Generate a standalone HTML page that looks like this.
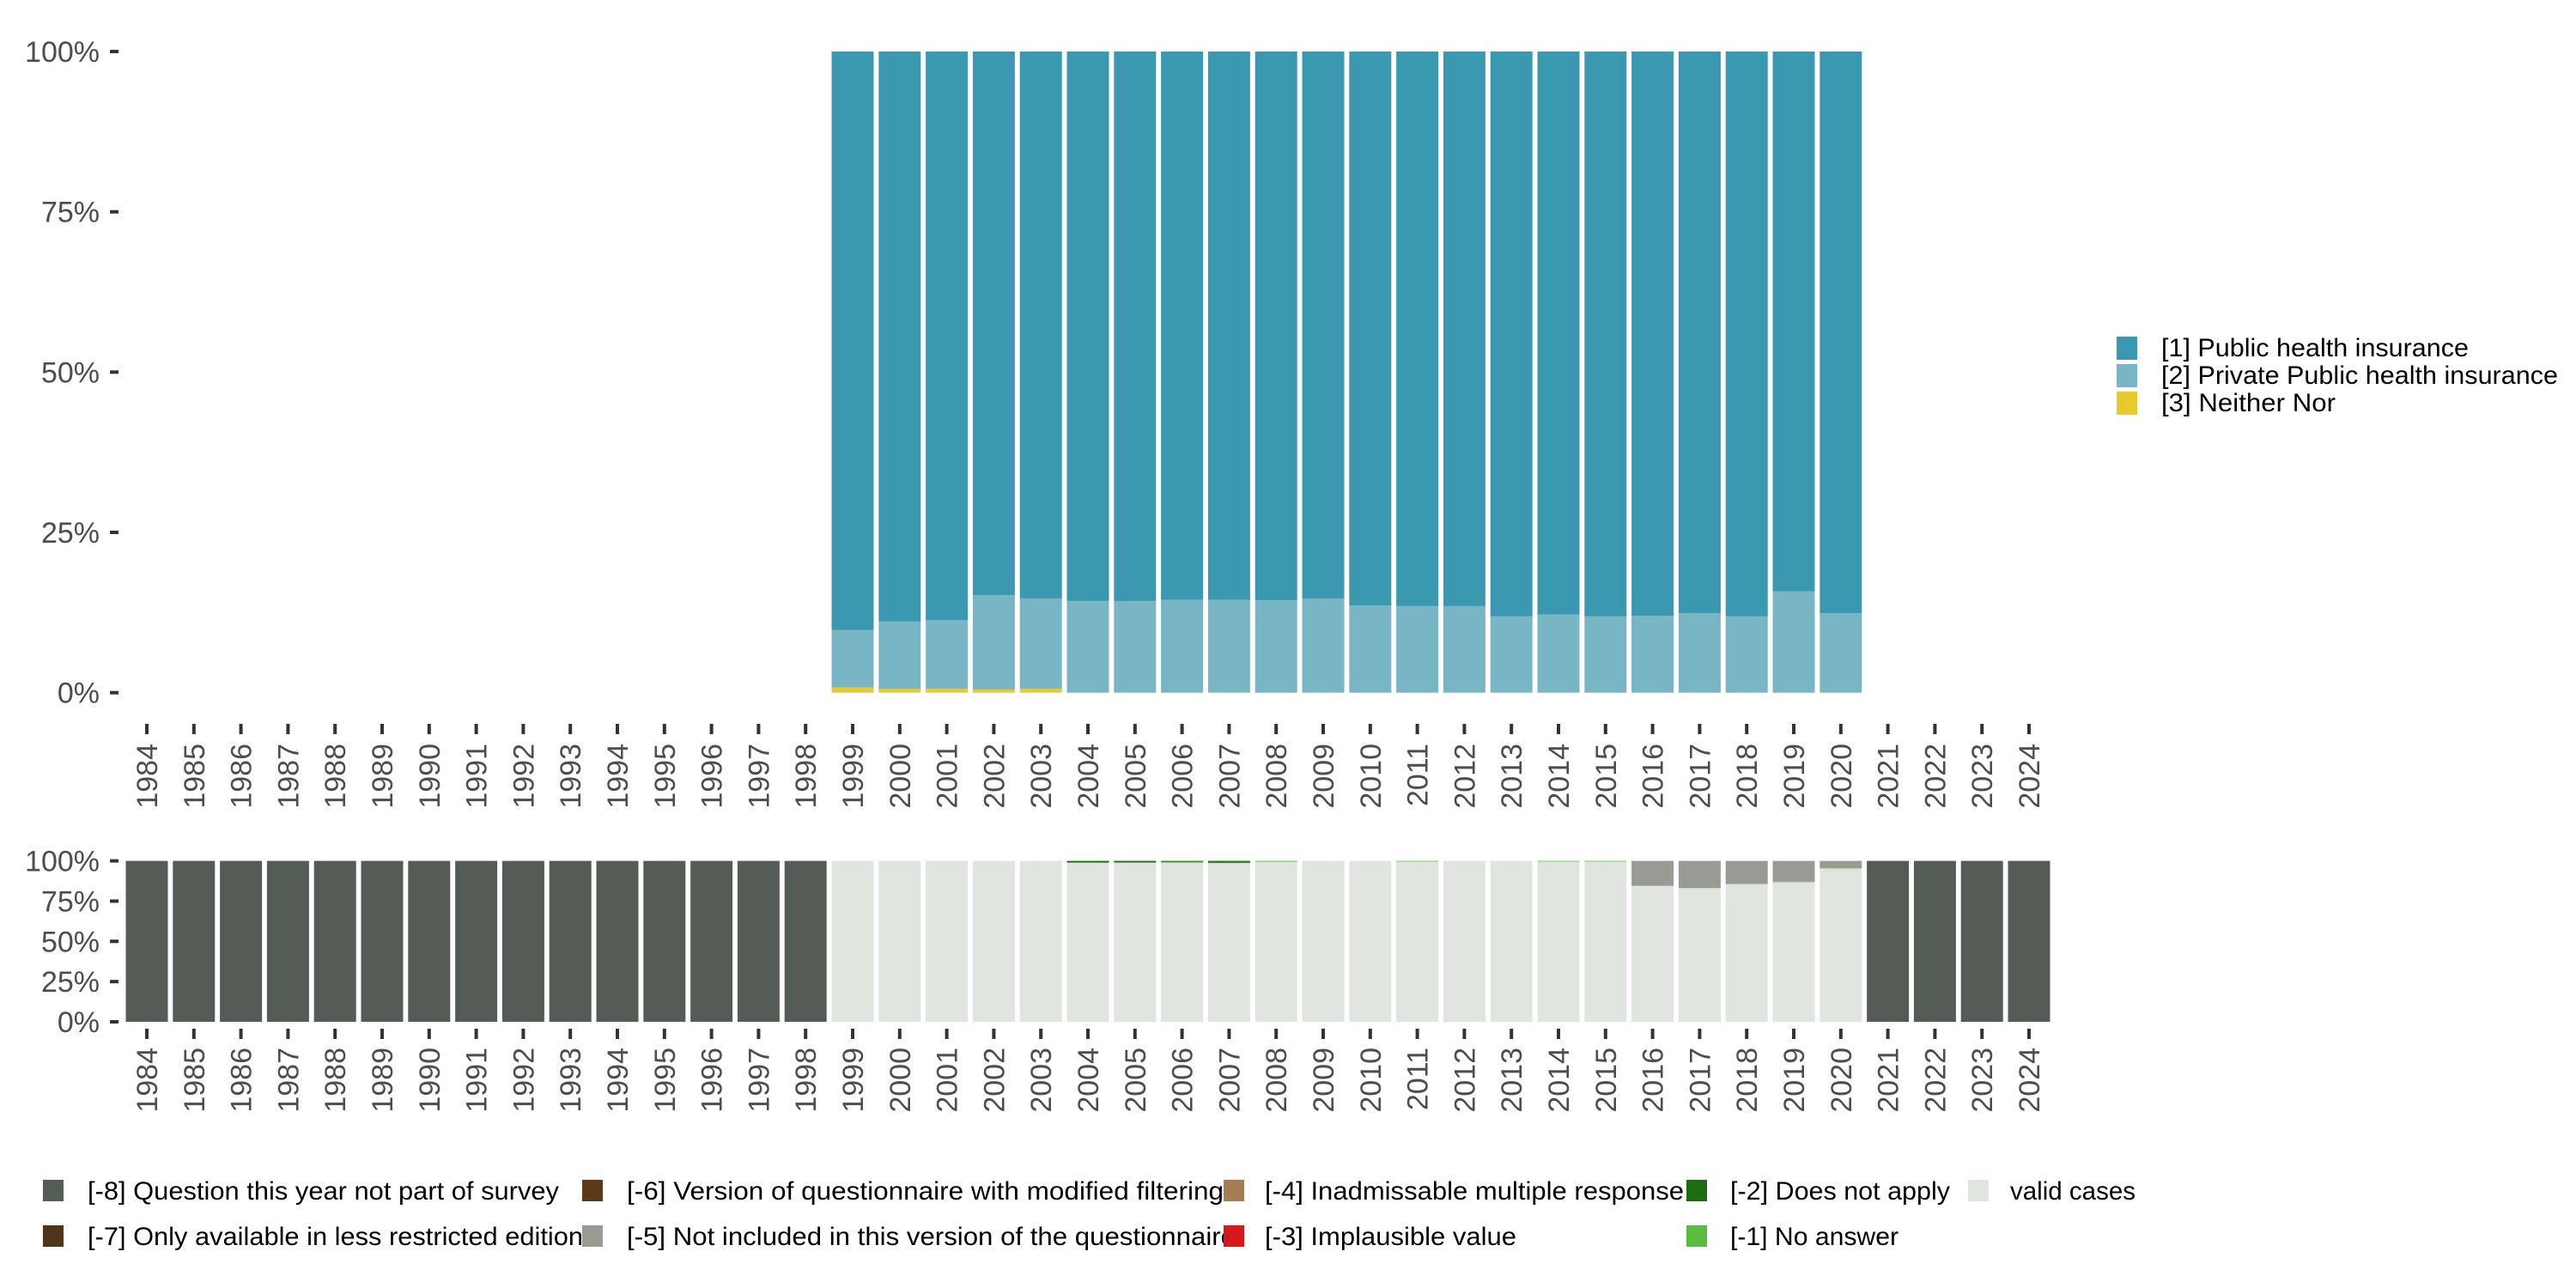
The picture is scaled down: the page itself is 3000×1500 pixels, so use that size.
<!DOCTYPE html>
<html><head><meta charset="utf-8"><style>
html,body{margin:0;padding:0;background:#fff}
svg{display:block;font-family:"Liberation Sans",sans-serif}
</style></head><body>
<svg id="c" width="3000" height="1500" viewBox="0 0 3000 1500" xmlns="http://www.w3.org/2000/svg"></svg>
<script>
const years=[1984,1985,1986,1987,1988,1989,1990,1991,1992,1993,1994,1995,1996,1997,1998,1999,2000,2001,2002,2003,2004,2005,2006,2007,2008,2009,2010,2011,2012,2013,2014,2015,2016,2017,2018,2019,2020,2021,2022,2023,2024];
const topYears=[1999,2000,2001,2002,2003,2004,2005,2006,2007,2008,2009,2010,2011,2012,2013,2014,2015,2016,2017,2018,2019,2020];
const neitherVals=[0.8,0.6,0.6,0.5,0.6,0,0,0,0,0,0,0,0,0,0,0,0,0,0,0,0,0];
const privateVals=[9.0,10.5,10.7,14.7,14.1,14.3,14.3,14.5,14.5,14.4,14.7,13.6,13.5,13.5,11.9,12.2,11.9,12.0,12.4,11.9,15.8,12.4];
const yTicks=[0,25,50,75,100];
const yTickLabels=["0%","25%","50%","75%","100%"];
const notSurvey=[100,100,100,100,100,100,100,100,100,100,100,100,100,100,100,0,0,0,0,0,0,0,0,0,0,0,0,0,0,0,0,0,0,0,0,0,0,100,100,100,100];
const notIncluded=[0,0,0,0,0,0,0,0,0,0,0,0,0,0,0,0,0,0,0,0,0,0,0,0,0,0,0,0,0,0,0,0,15.5,16.9,14.4,12.9,4.3,0,0,0,0];
const doesNotApply=[0,0,0,0,0,0,0,0,0,0,0,0,0,0,0,0,0,0,0,0,0.9,1.0,0.6,1.0,0,0,0,0,0,0,0,0,0,0,0,0,0,0,0,0,0];
const noAnswer=[0,0,0,0,0,0,0,0,0,0,0,0,0,0,0,0,0,0,0,0,0.4,0,0.5,0.4,0.5,0,0,0.4,0,0,0.4,0.4,0,0,0,0.3,0.4,0,0,0,0];

const svg=document.getElementById('c');
const NS='http://www.w3.org/2000/svg';
function el(t,a,p){const e=document.createElementNS(NS,t);for(const k in a)e.setAttribute(k,a[k]);(p||svg).appendChild(e);return e;}
const x0=171,step=54.8,bw=49;
function xc(y){return x0+(years.indexOf(y))*step;}
function yTop(v){return 806.7-v/100*746.7;}
function yBot(v){return 1190-v/100*187.4;}

function axes(yf,tickTop,labelTop,prefix){
  yTicks.forEach((t,i)=>{
    const tk=el('rect',{x:128,y:yf(t)-2,width:10,height:4,fill:'#333'});
    
    
    const tx=el('text',{x:116,y:yf(t)+12,'text-anchor':'end','font-size':34,fill:'#4d4d4d'});
    tx.textContent=yTickLabels[i];
    
    
  });
  years.forEach(y=>{
    const tk=el('rect',{x:xc(y)-2,y:tickTop,width:4,height:12,fill:'#333'});
    
    
    const tx=el('text',{transform:`translate(${xc(y)+12},${labelTop}) rotate(-90)`,'text-anchor':'end','font-size':34,fill:'#4d4d4d'});
    tx.textContent=y;
    
    
  });
}
axes(yTop,843,866,'top');
axes(yBot,1198,1220,'bottom');

topYears.forEach((y,i)=>{
  const x=xc(y)-bw/2;
  const n=neitherVals[i],p=privateVals[i],pub=100-n-p;
  let b=0;
  [[n,'#e8cb2a','bar-neither'],[p,'#78b6c5','bar-private'],[pub,'#3b98b1','bar-public']].forEach(([v,c,nm])=>{
    if(v<=0)return;
    const r=el('rect',{x:x,y:yTop(b+v),width:bw,height:yTop(b)-yTop(b+v),fill:c});
    
    
    b+=v;
  });
});
years.forEach((y,i)=>{
  const x=xc(y)-bw/2;
  const valid=100-notSurvey[i]-notIncluded[i]-doesNotApply[i]-noAnswer[i];
  let b=0;
  [[valid,'#e0e5e0','bar-valid'],[noAnswer[i],'#5bbd40','bar-no-answer'],[doesNotApply[i],'#1f6b13','bar-does-not-apply'],[notIncluded[i],'#979b94','bar-not-included'],[notSurvey[i],'#555c55','bar-not-survey']].forEach(([v,c,nm])=>{
    if(v<=0)return;
    const r=el('rect',{x:x,y:yBot(b+v),width:bw,height:yBot(b)-yBot(b+v),fill:c});
    
    
    b+=v;
  });
});
</script>
<svg style="position:absolute;left:0;top:0" width="3000" height="1500" xmlns="http://www.w3.org/2000/svg" font-family="Liberation Sans, sans-serif">
<g font-size="30" fill="#000">
<rect x="2465" y="392" width="24" height="27" fill="#3b98b1"/>
<text x="2517" y="415" textLength="358" lengthAdjust="spacingAndGlyphs">[1] Public health insurance</text>
<rect x="2465" y="424" width="24" height="27" fill="#78b6c5"/>
<text x="2517" y="447" textLength="462" lengthAdjust="spacingAndGlyphs">[2] Private Public health insurance</text>
<rect x="2465" y="456" width="24" height="27" fill="#e8cb2a"/>
<text x="2517" y="479" textLength="203" lengthAdjust="spacingAndGlyphs">[3] Neither Nor</text>
</g>
<g font-size="30" fill="#000">
<rect x="50" y="1374" width="24" height="25" fill="#555c55"/>
<text x="102" y="1397" textLength="549" lengthAdjust="spacingAndGlyphs">[-8] Question this year not part of survey</text>
<rect x="50" y="1427" width="24" height="25" fill="#4e3418"/>
<text x="102" y="1450" textLength="577" lengthAdjust="spacingAndGlyphs">[-7] Only available in less restricted edition</text>
<rect x="678" y="1374" width="24" height="25" fill="#5a3a19"/>
<text x="730" y="1397" textLength="695" lengthAdjust="spacingAndGlyphs">[-6] Version of questionnaire with modified filtering</text>
<rect x="678" y="1427" width="24" height="25" fill="#979b94"/>
<text x="730" y="1450" textLength="709" lengthAdjust="spacingAndGlyphs">[-5] Not included in this version of the questionnaire</text>
<rect x="1425" y="1374" width="24" height="25" fill="#a67c52"/>
<text x="1473" y="1397" textLength="488" lengthAdjust="spacingAndGlyphs">[-4] Inadmissable multiple response</text>
<rect x="1425" y="1427" width="24" height="25" fill="#d7191c"/>
<text x="1473" y="1450" textLength="293" lengthAdjust="spacingAndGlyphs">[-3] Implausible value</text>
<rect x="1964" y="1374" width="24" height="25" fill="#1f6b13"/>
<text x="2015" y="1397" textLength="256" lengthAdjust="spacingAndGlyphs">[-2] Does not apply</text>
<rect x="1964" y="1427" width="24" height="25" fill="#5bbd40"/>
<text x="2015" y="1450" textLength="196" lengthAdjust="spacingAndGlyphs">[-1] No answer</text>
<rect x="2292" y="1374" width="24" height="25" fill="#e0e5e0"/>
<text x="2341" y="1397" textLength="146" lengthAdjust="spacingAndGlyphs">valid cases</text>
</g>
</svg>
</body></html>
